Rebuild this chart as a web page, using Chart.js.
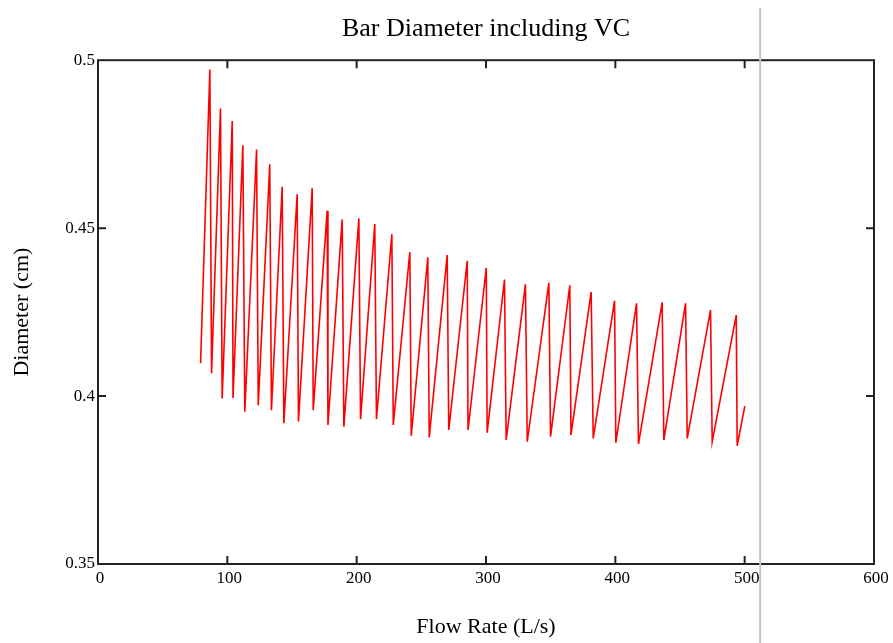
<!DOCTYPE html>
<html>
<head>
<meta charset="utf-8">
<script src="https://cdn.jsdelivr.net/npm/chart.js@4/dist/chart.umd.min.js"></script>
<style>
  html, body { margin: 0; padding: 0; background: #fff; }
  canvas { display: block; }
</style>
</head>
<body>
<canvas id="chart" width="893" height="643"></canvas>
<script>
// sawtooth vertices: start, then (peak, trough) for each tooth, then end
const flowRate = [
  79.3,
  86.5, 87.8, 94.7, 96.0, 103.8, 104.4, 112.0, 113.5, 122.6, 123.9,
  132.8, 134.1, 142.4, 143.7, 154.0, 155.0, 165.6, 166.4, 177.2, 177.8,
  188.8, 190.1, 201.7, 203.0, 214.0, 215.3, 227.2, 228.3, 241.1, 242.2,
  255.0, 256.1, 270.0, 271.2, 285.5, 286.1, 300.2, 300.9, 314.3, 315.6,
  330.5, 331.9, 348.6, 349.9, 364.8, 365.7, 381.3, 382.9, 399.4, 400.4,
  416.4, 417.9, 436.2, 437.5, 454.3, 455.6, 473.6, 474.9, 493.5, 494.2,
  500.1
];
const diameter = [
  0.4098,
  0.4972, 0.4068, 0.4856, 0.3993, 0.4819, 0.3994, 0.4747, 0.3953, 0.4734, 0.3973,
  0.4690, 0.3958, 0.4623, 0.3919, 0.4601, 0.3924, 0.4619, 0.3958, 0.4552, 0.3914,
  0.4526, 0.3909, 0.4529, 0.3931, 0.4512, 0.3931, 0.4482, 0.3914, 0.4429, 0.3882,
  0.4413, 0.3877, 0.4420, 0.3899, 0.4403, 0.3899, 0.4382, 0.3891, 0.4347, 0.3869,
  0.4333, 0.3864, 0.4337, 0.3879, 0.4330, 0.3884, 0.4310, 0.3874, 0.4284, 0.3861,
  0.4276, 0.3857, 0.4279, 0.3869, 0.4276, 0.3874, 0.4256, 0.3864, 0.4241, 0.3852,
  0.3970
];
const xTicks = [0, 100, 200, 300, 400, 500, 600];
const yTicks = [0.35, 0.4, 0.45, 0.5];
const cursorFlow = 512;

const serif = "'Liberation Serif', 'Times New Roman', serif";

// frame, inward ticks and the grey cursor line
const framePlugin = {
  id: "frame",
  afterDraw(chart) {
    const { ctx, chartArea: a, scales } = chart;
    const tl = 8;
    ctx.save();
    ctx.strokeStyle = "#222";
    ctx.lineWidth = 2;
    ctx.strokeRect(a.left, a.top, a.right - a.left, a.bottom - a.top);
    ctx.beginPath();
    xTicks.slice(1, -1).forEach((v) => {
      const px = scales.x.getPixelForValue(v);
      ctx.moveTo(px, a.bottom); ctx.lineTo(px, a.bottom - tl);
      ctx.moveTo(px, a.top); ctx.lineTo(px, a.top + tl);
    });
    yTicks.slice(1, -1).forEach((v) => {
      const py = scales.y.getPixelForValue(v);
      ctx.moveTo(a.left, py); ctx.lineTo(a.left + tl, py);
      ctx.moveTo(a.right, py); ctx.lineTo(a.right - tl, py);
    });
    ctx.stroke();

    const cx = scales.x.getPixelForValue(cursorFlow);
    ctx.strokeStyle = "#c4c4c4";
    ctx.lineWidth = 2;
    ctx.beginPath();
    ctx.moveTo(cx, 8);
    ctx.lineTo(cx, chart.height);
    ctx.stroke();
    ctx.restore();
  },
};

new Chart(document.getElementById("chart"), {
  type: "scatter",
  data: {
    datasets: [
      {
        data: flowRate.map((x, i) => ({ x, y: diameter[i] })),
        showLine: true,
        borderColor: "#ff0000",
        borderWidth: 1.6,
        pointRadius: 0,
        tension: 0,
      },
    ],
  },
  options: {
    responsive: false,
    animation: false,
    devicePixelRatio: 1,
    layout: { padding: { left: 0, right: 19, top: 0, bottom: 0 } },
    plugins: {
      legend: { display: false },
      tooltip: { enabled: false },
      title: {
        display: true,
        fullSize: false,
        text: "Bar Diameter including VC",
        color: "#000",
        font: { family: serif, size: 26, weight: "normal" },
        padding: { top: 14, bottom: 15 },
      },
    },
    scales: {
      x: {
        type: "linear",
        min: 0,
        max: 600,
        afterBuildTicks: (s) => { s.ticks = xTicks.map((v) => ({ value: v })); },
        afterFit: (s) => { s.height = 79; },
        grid: { display: false, drawTicks: false },
        border: { display: false },
        ticks: {
          color: "#000",
          font: { family: serif, size: 17 },
          padding: 4,
          labelOffset: 2,
          maxRotation: 0,
        },
        title: {
          display: true,
          text: "Flow Rate (L/s)",
          color: "#000",
          font: { family: serif, size: 22 },
          padding: { top: 0, bottom: 3 },
        },
      },
      y: {
        type: "linear",
        min: 0.35,
        max: 0.5,
        afterBuildTicks: (s) => { s.ticks = yTicks.map((v) => ({ value: v })); },
        afterFit: (s) => { s.width = 98; },
        grid: { display: false, drawTicks: false },
        border: { display: false },
        ticks: {
          color: "#000",
          font: { family: serif, size: 17 },
          padding: 3,
          callback: (v) => String(v),
        },
        title: {
          display: true,
          text: "Diameter (cm)",
          color: "#000",
          font: { family: serif, size: 22 },
          padding: { top: 9, bottom: 0 },
        },
      },
    },
  },
  plugins: [framePlugin],
});
</script>
</body>
</html>
